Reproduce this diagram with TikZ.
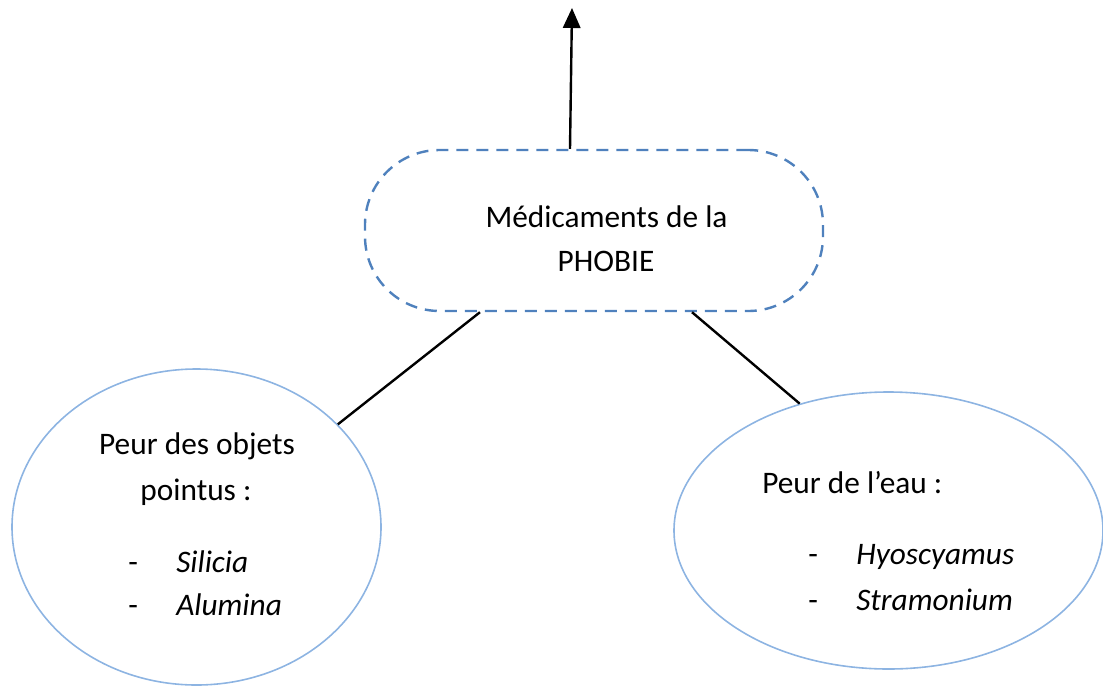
\documentclass[tikz,border=0pt]{standalone}
\usepackage{fontspec}
\setmainfont{Carlito}
\usetikzlibrary{arrows.meta,shapes.geometric}
\definecolor{tiretbleu}{RGB}{79,129,189}
\definecolor{bullebleu}{RGB}{141,180,226}
\newcommand{\remede}[1]{\makebox[36pt][l]{-}\textit{#1}}

\begin{document}
\begin{tikzpicture}[x=0.75pt,y=-0.75pt,
    cadre/.style={draw=tiretbleu,line width=1.8pt,dash pattern=on 9pt off 6pt,
      rounded corners=56pt,minimum width=343.5pt,minimum height=120.75pt,inner sep=0pt},
    bulle/.style={ellipse,draw=bullebleu,line width=1.2pt,inner sep=0pt},
    titre/.style={font=\fontsize{23.5pt}{33pt}\selectfont,anchor=base,inner sep=0pt},
    liste/.style={font=\fontsize{23.5pt}{33pt}\selectfont,anchor=base west,inner sep=0pt},
    trait/.style={line width=1.8pt}]
    \useasboundingbox (0,0) rectangle (1103,686);

    \node[cadre] (phobie) at (594,230.5) {};
    \node[bulle,minimum width=276.75pt,minimum height=237pt] (objets) at (196.5,527) {};
    \node[bulle,minimum width=321.75pt,minimum height=207.75pt] (eau) at (888.5,530.5) {};
    \coordinate (haut) at (572,8);

    \node[titre] (med1) at (606.5,227) {Médicaments de la};
    \node[titre] (med2) at (606,271.5) {PHOBIE};
    \node[titre] (obj1) at (197,454) {Peur des objets};
    \node[titre] (obj2) at (196,500) {pointus :};
    \node[liste] (obj3) at (128,572) {\remede{Silicia}};
    \node[liste] (obj4) at (128,615) {\remede{Alumina}};
    \node[liste] (eau1) at (762,493) {Peur de l’eau :};
    \node[liste] (eau2) at (808,564) {\remede{Hyoscyamus}};
    \node[liste] (eau3) at (808,610) {\remede{Stramonium}};

    \draw[trait,-{Triangle[width=13pt,length=15pt]}] ([xshift=-18pt]phobie.north) -- (haut);
    \draw[trait] ([xshift=-85.5pt]phobie.south) -- (objets.36.6);
    \draw[trait] ([xshift=73.5pt]phobie.south) -- (eau.125.8);
\end{tikzpicture}
\end{document}
